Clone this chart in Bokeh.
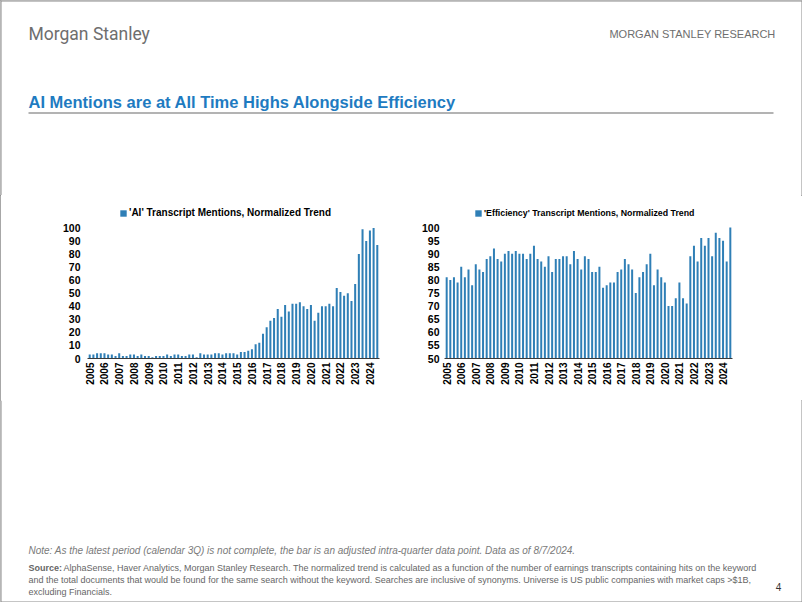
from math import pi
from bokeh.plotting import figure
from bokeh.models import Range1d, FixedTicker, Legend, LegendItem, ColumnDataSource
from bokeh.layouts import column, row
from bokeh.core.properties import value
from bokeh.embed import file_html
from bokeh.resources import INLINE

# ---------------- data (quarterly, 2005Q1 .. 2024Q3) ----------------
year_labels = ["2005", "2006", "2007", "2008", "2009", "2010", "2011", "2012", "2013", "2014",
               "2015", "2016", "2017", "2018", "2019", "2020", "2021", "2022", "2023", "2024"]

ai_trend = [3, 3, 4, 4,   4, 3, 3, 2,   4, 2, 2, 3,   3, 2, 3, 2,   2, 1, 2, 2,
            2, 3, 2, 3,   3, 2, 2, 3,   3, 1, 4, 3,   3, 3, 4, 4,   3, 4, 4, 4,
            3, 5, 5, 6,   7, 11, 12, 19, 24, 29, 31, 38, 32, 41, 36, 42, 42, 43, 40, 38,
            41, 29, 35, 40, 40, 42, 40, 54, 51, 48, 50, 44, 57, 80, 99, 90, 98, 100, 87]

efficiency_trend = [81, 80, 81, 79, 85, 81, 84, 78, 86, 84, 83, 88, 89, 92, 88, 87, 90, 91, 90, 91,
                    90, 90, 88, 90, 93, 88, 87, 85, 89, 83, 88, 88, 89, 89, 86, 91, 88, 84, 89, 88,
                    83, 83, 85, 77, 78, 79, 79, 83, 84, 88, 86, 84, 75, 81, 83, 86, 90, 78, 84, 81,
                    79, 70, 70, 73, 79, 73, 71, 89, 93, 87, 96, 93, 96, 89, 98, 96, 95, 87, 100]

ai_legend = "'AI' Transcript Mentions, Normalized Trend"
eff_legend = "'Efficiency' Transcript Mentions, Normalized Trend"

BAR = "#2F7FB6"
FONT = "Liberation Sans"
EDGE = "#8a8a8a"


def bar_chart(values, y0, y1, step, y_top, legend_text, leg_size, left, fw, right, leg_x, ystand):
    n = len(values)
    src = ColumnDataSource(dict(x=list(range(n)), top=values))
    p = figure(width=left + fw + right, height=205, title=None,
               x_range=Range1d(-0.6, n - 0.4), y_range=Range1d(y0, y_top),
               output_backend="svg", toolbar_location=None,
               min_border_left=left, min_border_right=right, min_border_top=4, min_border_bottom=42)
    p.outline_line_color = None
    p.background_fill_color = "white"
    p.border_fill_color = "white"
    p.xgrid.visible = False
    p.ygrid.visible = False
    r = p.vbar(x="x", top="top", bottom=y0, width=0.55, source=src,
               fill_color=BAR, line_color=None)

    xa = p.xaxis[0]
    xa.ticker = FixedTicker(ticks=[4 * i for i in range(len(year_labels))])
    xa.major_label_overrides = {4 * i: lab for i, lab in enumerate(year_labels)}
    xa.major_label_orientation = pi / 2
    xa.major_label_text_font = FONT
    xa.major_label_text_font_style = "bold"
    xa.major_label_text_font_size = "10px"
    xa.major_label_text_color = "black"
    xa.major_label_standoff = 4
    xa.major_tick_in = 0
    xa.major_tick_out = 0
    xa.minor_tick_in = 0
    xa.minor_tick_out = 0
    xa.axis_line_color = "#3a3a3a"

    ya = p.yaxis[0]
    ya.ticker = FixedTicker(ticks=list(range(y0, y1 + 1, step)))
    ya.major_label_text_font = FONT
    ya.major_label_text_font_style = "bold"
    ya.major_label_text_font_size = "10.5px"
    ya.major_label_text_color = "black"
    ya.major_label_standoff = ystand
    ya.major_tick_in = 0
    ya.major_tick_out = 0
    ya.minor_tick_in = 0
    ya.minor_tick_out = 0
    ya.axis_line_color = None

    legend = Legend(items=[LegendItem(label=legend_text, renderers=[r])],
                    location=(leg_x, 140), orientation="horizontal",
                    border_line_color=None, background_fill_alpha=0,
                    label_text_font=FONT, label_text_font_style="bold",
                    label_text_font_size=leg_size, label_text_color="black",
                    glyph_width=8, glyph_height=8, label_standoff=2,
                    padding=2, margin=0)
    p.add_layout(legend)
    return p


# y_top extends the plotting area above the last tick so the legend sits over the bars
c1 = bar_chart(ai_trend, 0, 100, 10, 121.8, ai_legend, "10px", 87, 292, 21, 32, 7)
c2 = bar_chart(efficiency_trend, 50, 100, 5, 110.7, eff_legend, "8.8px", 44, 288, 70, 30, 5)

# ---------------- header ----------------
h = figure(width=802, height=195, x_range=Range1d(0, 802), y_range=Range1d(195, 0),
           x_axis_type=None, y_axis_type=None, output_backend="svg", toolbar_location=None,
           min_border=0, title=None)
h.outline_line_color = None
h.grid.visible = False
h.segment(x0=[0.5, 0.5, 801.5], y0=[0.5, 0, 0], x1=[801.5, 0.5, 801.5], y1=[0.5, 195, 195],
          line_color=EDGE, line_width=1)
h.text(x=[28], y=[33.5], text=["Morgan Stanley"], text_font=value("Roboto"),
       text_font_size="17.5px", text_color="#6e6e6e", text_baseline="middle")
h.text(x=[775], y=[33], text=["MORGAN STANLEY RESEARCH"], text_font=value(FONT),
       text_font_size="11px", text_color="#6e6e6e", text_baseline="middle", text_align="right")
h.text(x=[28], y=[101], text=["AI Mentions are at All Time Highs Alongside Efficiency"],
       text_font=value(FONT), text_font_style="bold", text_font_size="16.5px",
       text_color="#1E7BC1", text_baseline="middle")
h.segment(x0=[28], y0=[112.5], x1=[773], y1=[112.5], line_color="#9a9a9a", line_width=1.5)

# ---------------- footer ----------------
f = figure(width=802, height=202, x_range=Range1d(0, 802), y_range=Range1d(602, 400),
           x_axis_type=None, y_axis_type=None, output_backend="svg", toolbar_location=None,
           min_border=0, title=None)
f.outline_line_color = None
f.grid.visible = False
f.segment(x0=[0.5, 0.5, 801.5], y0=[601.5, 400, 400], x1=[801.5, 0.5, 801.5], y1=[601.5, 602, 602],
          line_color=EDGE, line_width=1)
f.text(x=[28], y=[550],
       text=["Note: As the latest period (calendar 3Q) is not complete, the bar is an adjusted "
             "intra-quarter data point. Data as of 8/7/2024."],
       text_font=value(FONT), text_font_style="italic", text_font_size="10px",
       text_color="#7a7a7a", text_baseline="middle")
f.text(x=[28], y=[567], text=["Source:"], text_font=value(FONT), text_font_style="bold",
       text_font_size="9px", text_color="#666666", text_baseline="middle")
f.text(x=[63, 28, 28], y=[567, 579, 591],
       text=["AlphaSense, Haver Analytics, Morgan Stanley Research. The normalized trend is calculated "
             "as a function of the number of earnings transcripts containing hits on the keyword",
             "and the total documents that would be found for the same search without the keyword. "
             "Searches are inclusive of synonyms.  Universe is US public companies with market caps >$1B,",
             "excluding Financials."],
       text_font=value(FONT), text_font_size="9px", text_color="#666666", text_baseline="middle")
f.text(x=[778], y=[586], text=["4"], text_font=value(FONT), text_font_size="10px",
       text_color="#333333", text_baseline="middle", text_align="center")

layout = column(h, row(c1, c2), f,
                styles={"outline": "1px solid #8a8a8a", "outline-offset": "-1px"})
open("out.html", "w").write(file_html(layout, INLINE))
